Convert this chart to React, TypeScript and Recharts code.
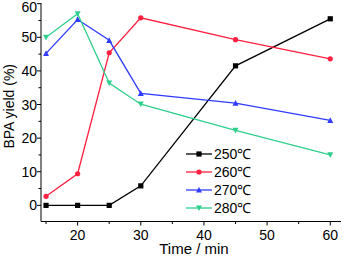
import { LineChart, Line, XAxis, YAxis } from "recharts";

const times = [15, 20, 25, 30, 45, 60];
const yield250 = [0, 0, 0, 5.8, 41.5, 55.5];
const yield260 = [2.7, 9.4, 45.4, 55.8, 49.3, 43.6];
const yield270 = [45.2, 55.3, 49.1, 33.3, 30.4, 25.3];
const yield280 = [50, 57, 36.4, 30.1, 22.3, 15];

const xTicks = [15, 20, 25, 30, 35, 40, 45, 50, 55, 60];
const xLabels = [20, 30, 40, 50, 60];
const yTicks = [0, 5, 10, 15, 20, 25, 30, 35, 40, 45, 50, 55, 60];
const yLabels = [0, 10, 20, 30, 40, 50, 60];

const SERIES = [
  { key: "t250", name: "250℃", color: "#000000", shape: "square" },
  { key: "t260", name: "260℃", color: "#ff2040", shape: "circle" },
  { key: "t270", name: "270℃", color: "#2f3cff", shape: "up" },
  { key: "t280", name: "280℃", color: "#2fcf8c", shape: "down" },
];

const data = times.map((t, i) => ({
  time: t,
  t250: yield250[i],
  t260: yield260[i],
  t270: yield270[i],
  t280: yield280[i],
}));

const FONT = "'Liberation Sans', Arial, sans-serif";
const TICK_SIZE = 4;
const TICK_MARGIN = 2;
const X_DOMAIN = [14.2, 61.7];
const Y_DOMAIN = [-4.8, 60.2];

function Marker({ cx, cy, shape, color }: any) {
  if (cx == null || cy == null) return null;
  const s = 2.6;
  if (shape === "square") return <rect x={cx - s} y={cy - s} width={s * 2} height={s * 2} fill={color} />;
  if (shape === "circle") return <circle cx={cx} cy={cy} r={s} fill={color} />;
  if (shape === "up")
    return <polygon points={`${cx},${cy - s - 0.5} ${cx - s - 0.4},${cy + s} ${cx + s + 0.4},${cy + s}`} fill={color} />;
  return <polygon points={`${cx},${cy + s + 0.5} ${cx - s - 0.4},${cy - s} ${cx + s + 0.4},${cy - s}`} fill={color} />;
}

function XTick({ x, y, payload }: any) {
  const v = payload.value;
  const axisY = y - TICK_SIZE - TICK_MARGIN;
  const major = xLabels.includes(v);
  return (
    <g>
      <line x1={x} x2={x} y1={axisY} y2={axisY + (major ? 4 : 2.5)} stroke="#000" />
      {major && (
        <text x={x} y={axisY + 18} textAnchor="middle" fontSize={14} fontFamily={FONT} fill="#000">
          {v}
        </text>
      )}
    </g>
  );
}

function YTick({ x, y, payload }: any) {
  const v = payload.value;
  const axisX = x + TICK_SIZE + TICK_MARGIN;
  const major = yLabels.includes(v);
  return (
    <g>
      <line x1={axisX} x2={axisX - (major ? 4 : 2.5)} y1={y} y2={y} stroke="#000" />
      {major && (
        <text x={axisX - 4} y={y + (v === 60 ? 8 : 5)} textAnchor="end" fontSize={14} fontFamily={FONT} fill="#000">
          {v}
        </text>
      )}
    </g>
  );
}

function LegendBox() {
  return (
    <svg width={80} height={80} style={{ position: "absolute", left: 183, top: 145 }}>
      {SERIES.map((s, i) => {
        const y = 9 + i * 18;
        return (
          <g key={s.key}>
            <line x1={3} x2={29} y1={y} y2={y} stroke={s.color} strokeWidth={1.3} />
            <Marker cx={16} cy={y} shape={s.shape} color={s.color} />
            <text x={31} y={y + 5} fontSize={14} fontFamily={FONT} fill="#000">
              {s.name}
            </text>
          </g>
        );
      })}
    </svg>
  );
}

function YLabel({ viewBox }: any) {
  const cx = 9;
  const cy = viewBox.y + viewBox.height / 2 - 6;
  return (
    <text x={cx} y={cy} transform={`rotate(-90 ${cx} ${cy})`} textAnchor="middle" dominantBaseline="central" fontSize={14} fontFamily={FONT} fill="#000">
      BPA yield (%)
    </text>
  );
}

function XLabel({ viewBox }: any) {
  const cx = viewBox.x + viewBox.width / 2 + 3;
  return (
    <text x={cx} y={254} textAnchor="middle" fontSize={15} fontFamily={FONT} fill="#000">
      Time / min
    </text>
  );
}

export default function App() {
  return (
    <div style={{ position: "absolute", left: 0, top: 0, width: 345, height: 256, background: "#fff" }}>
      <LineChart width={345} height={256} data={data} margin={{ top: 3, right: 4, bottom: 0, left: 0 }}>
        <XAxis
          dataKey="time"
          type="number"
          domain={X_DOMAIN}
          ticks={xTicks}
          interval={0}
          tick={<XTick />}
          tickLine={false}
          tickSize={TICK_SIZE}
          tickMargin={TICK_MARGIN}
          height={34.5}
          axisLine={{ stroke: "#000" }}
          label={<XLabel />}
        />
        <XAxis xAxisId="top" orientation="top" dataKey="time" type="number" domain={X_DOMAIN} height={0} tick={false} tickLine={false} axisLine={{ stroke: "#000" }} />
        <YAxis
          type="number"
          domain={Y_DOMAIN}
          ticks={yTicks}
          interval={0}
          tick={<YTick />}
          tickLine={false}
          tickSize={TICK_SIZE}
          tickMargin={TICK_MARGIN}
          width={41}
          axisLine={{ stroke: "#000" }}
          label={<YLabel />}
        />
        <YAxis yAxisId="right" orientation="right" domain={Y_DOMAIN} width={0} tick={false} tickLine={false} axisLine={{ stroke: "#000" }} />
        {SERIES.map((s) => (
          <Line
            key={s.key}
            dataKey={s.key}
            name={s.name}
            stroke={s.color}
            strokeWidth={1.3}
            isAnimationActive={false}
            dot={(p: any) => <Marker key={`${s.key}-${p.index}`} cx={p.cx} cy={p.cy} shape={s.shape} color={s.color} />}
            activeDot={false}
          />
        ))}
      </LineChart>
      <LegendBox />
    </div>
  );
}
